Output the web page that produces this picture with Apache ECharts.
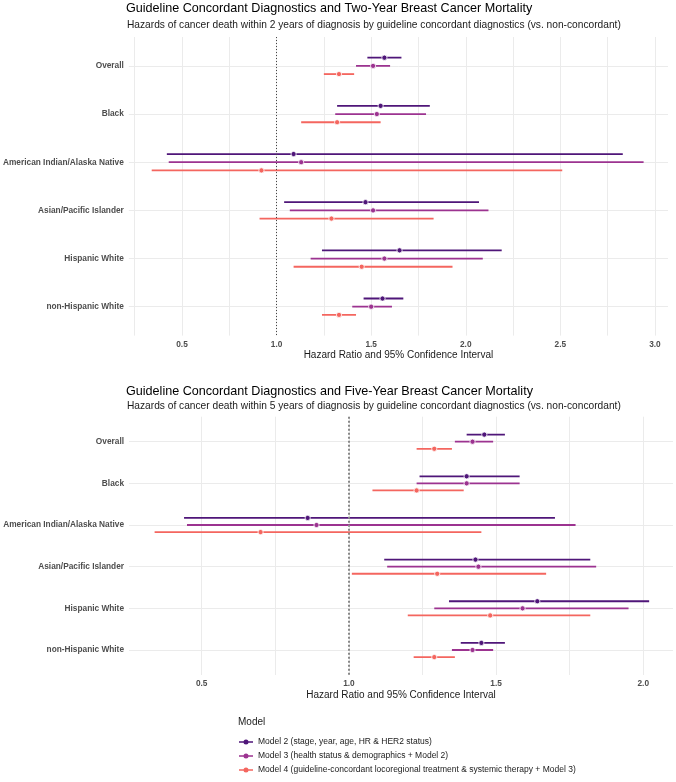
<!DOCTYPE html>
<html>
<head>
<meta charset="utf-8">
<script src="https://cdn.jsdelivr.net/npm/echarts@6/dist/echarts.min.js"></script>
<style>
  html, body { margin: 0; padding: 0; background: #fff; }
  #main { width: 676px; height: 782px; }
</style>
</head>
<body>
<div id="main"></div>
<script>
// groups, top to bottom
var groups = ['Overall', 'Black', 'American Indian/Alaska Native', 'Asian/Pacific Islander', 'Hispanic White', 'non-Hispanic White'];
var models = [
  'Model 2 (stage, year, age, HR & HER2 status)',
  'Model 3 (health status & demographics + Model 2)',
  'Model 4 (guideline-concordant locoregional treatment & systemic therapy + Model 3)'
];
var colors = ['#4f1679', '#9c3390', '#f4665f'];

// two-year mortality: hazard ratio, lower and upper 95% CI
var twoM2Est = [1.57, 1.55, 1.09, 1.47, 1.65, 1.56];
var twoM2Lo  = [1.48, 1.32, 0.42, 1.04, 1.24, 1.46];
var twoM2Hi  = [1.66, 1.81, 2.83, 2.07, 2.19, 1.67];
var twoM3Est = [1.51, 1.53, 1.13, 1.51, 1.57, 1.50];
var twoM3Lo  = [1.42, 1.31, 0.43, 1.07, 1.18, 1.40];
var twoM3Hi  = [1.60, 1.79, 2.94, 2.12, 2.09, 1.61];
var twoM4Est = [1.33, 1.32, 0.92, 1.29, 1.45, 1.33];
var twoM4Lo  = [1.25, 1.13, 0.34, 0.91, 1.09, 1.24];
var twoM4Hi  = [1.41, 1.55, 2.51, 1.83, 1.93, 1.42];

// five-year mortality
var fiveM2Est = [1.46, 1.40, 0.86, 1.43, 1.64, 1.45];
var fiveM2Lo  = [1.40, 1.24, 0.44, 1.12, 1.34, 1.38];
var fiveM2Hi  = [1.53, 1.58, 1.70, 1.82, 2.02, 1.53];
var fiveM3Est = [1.42, 1.40, 0.89, 1.44, 1.59, 1.42];
var fiveM3Lo  = [1.36, 1.23, 0.45, 1.13, 1.29, 1.35];
var fiveM3Hi  = [1.49, 1.58, 1.77, 1.84, 1.95, 1.49];
var fiveM4Est = [1.29, 1.23, 0.70, 1.30, 1.48, 1.29];
var fiveM4Lo  = [1.23, 1.08, 0.34, 1.01, 1.20, 1.22];
var fiveM4Hi  = [1.35, 1.39, 1.45, 1.67, 1.82, 1.36];

// axis ticks
var twoTicks = [0.25, 0.5, 0.75, 1, 1.25, 1.5, 1.75, 2, 2.25, 2.5, 2.75, 3];
var twoLabels = [0.5, 1, 1.5, 2, 2.5, 3];
var fiveTicks = [0.25, 0.5, 0.75, 1, 1.25, 1.5, 1.75, 2];
var fiveLabels = [0.5, 1, 1.5, 2];
var rowTicks = [0, 1, 2, 3, 4, 5];

var dodge = [-0.17, 0, 0.17];

function rows(lo, est, hi) {
  return groups.map(function (g, i) { return [i, lo[i], est[i], hi[i]]; });
}

function makeSeries(m, idx, data) {
  return {
    type: 'custom',
    name: models[m],
    xAxisIndex: idx,
    yAxisIndex: idx,
    itemStyle: { color: colors[m] },
    encode: { x: [1, 2, 3], y: 0 },
    data: data,
    renderItem: function (params, api) {
      var y = api.value(0) + dodge[m];
      var a = api.coord([api.value(1), y]);
      var p = api.coord([api.value(2), y]);
      var b = api.coord([api.value(3), y]);
      return {
        type: 'group',
        children: [
          { type: 'line', shape: { x1: a[0], y1: a[1], x2: b[0], y2: b[1] },
            style: { stroke: colors[m], lineWidth: 1.8 } },
          { type: 'circle', shape: { cx: p[0], cy: p[1], r: 2.6 },
            style: { fill: colors[m], stroke: '#fff', lineWidth: 0.8 } }
        ]
      };
    }
  };
}

var tickFont = { fontFamily: 'Liberation Sans', fontWeight: 'bold', fontSize: 8.3, color: '#4d4d4d' };

function xAxis(idx, min, max, ticks, labels) {
  return {
    type: 'value', gridIndex: idx, min: min, max: max,
    name: 'Hazard Ratio and 95% Confidence Interval',
    nameLocation: 'middle', nameGap: 15,
    nameTextStyle: { fontFamily: 'Liberation Sans', fontSize: 10, color: '#1a1a1a' },
    axisLine: { show: false },
    axisTick: { show: false, customValues: ticks },
    axisLabel: Object.assign({ customValues: labels, margin: 5,
      formatter: function (v) { return v.toFixed(1); } }, tickFont),
    splitLine: { show: true, lineStyle: { color: '#ebebeb', width: 1 } }
  };
}

function yAxis(idx) {
  return {
    type: 'value', gridIndex: idx, inverse: true, min: -0.6, max: 5.6,
    axisLine: { show: false },
    axisTick: { show: false, customValues: rowTicks },
    axisLabel: Object.assign({ customValues: rowTicks, margin: 5,
      formatter: function (v) { return groups[v] || ''; } }, tickFont),
    splitLine: { show: true, lineStyle: { color: '#ebebeb', width: 1 } }
  };
}

var chart = echarts.init(document.getElementById('main'));

var series = [
  makeSeries(0, 0, rows(twoM2Lo, twoM2Est, twoM2Hi)),
  makeSeries(1, 0, rows(twoM3Lo, twoM3Est, twoM3Hi)),
  makeSeries(2, 0, rows(twoM4Lo, twoM4Est, twoM4Hi)),
  makeSeries(0, 1, rows(fiveM2Lo, fiveM2Est, fiveM2Hi)),
  makeSeries(1, 1, rows(fiveM3Lo, fiveM3Est, fiveM3Hi)),
  makeSeries(2, 1, rows(fiveM4Lo, fiveM4Est, fiveM4Hi))
];

// reference line at HR = 1
series[0].markLine = {
  silent: true, symbol: 'none', label: { show: false },
  lineStyle: { color: '#444', width: 1, type: [1, 2] },
  data: [{ xAxis: 1 }]
};
series[3].markLine = {
  silent: true, symbol: 'none', label: { show: false },
  lineStyle: { color: '#888', width: 2, type: [2, 2] },
  data: [{ xAxis: 1 }]
};

var legendIcon = 'path://M0,2.2h5v1.6h-5z M9,2.2h5v1.6h-5z M7,0.5a2.5,2.5 0 1 1 0,5a2.5,2.5 0 1 1 0,-5z';

chart.setOption({
  animation: false,
  textStyle: { fontFamily: 'Liberation Sans' },
  title: [
    { text: 'Guideline Concordant Diagnostics and Two-Year Breast Cancer Mortality', left: 126, top: 2, padding: 0,
      textStyle: { fontSize: 12.6, fontWeight: 'normal', color: '#000' } },
    { text: 'Hazards of cancer death within 2 years of diagnosis by guideline concordant diagnostics (vs. non-concordant)', left: 127, top: 20, padding: 0,
      textStyle: { fontSize: 10.2, fontWeight: 'normal', color: '#1a1a1a' } },
    { text: 'Guideline Concordant Diagnostics and Five-Year Breast Cancer Mortality', left: 126, top: 385, padding: 0,
      textStyle: { fontSize: 12.6, fontWeight: 'normal', color: '#000' } },
    { text: 'Hazards of cancer death within 5 years of diagnosis by guideline concordant diagnostics (vs. non-concordant)', left: 127, top: 401, padding: 0,
      textStyle: { fontSize: 10.2, fontWeight: 'normal', color: '#1a1a1a' } },
    { text: 'Model', left: 238, top: 717, padding: 0,
      textStyle: { fontSize: 10, fontWeight: 'normal', color: '#1a1a1a' } }
  ],
  legend: {
    orient: 'vertical', left: 239, top: 737, padding: 0,
    itemWidth: 14, itemHeight: 5, itemGap: 4,
    selectedMode: false,
    textStyle: { fontSize: 8.5, color: '#1a1a1a', lineHeight: 10 },
    data: models.map(function (n) { return { name: n, icon: legendIcon }; })
  },
  grid: [
    { left: 127, right: 8, top: 37, height: 298.6 },
    { left: 129, right: 3, top: 416.7, height: 258.3 }
  ],
  xAxis: [
    xAxis(0, 0.219, 3.069, twoTicks, twoLabels),
    xAxis(1, 0.253, 2.101, fiveTicks, fiveLabels)
  ],
  yAxis: [yAxis(0), yAxis(1)],
  series: series
});
</script>
</body>
</html>
